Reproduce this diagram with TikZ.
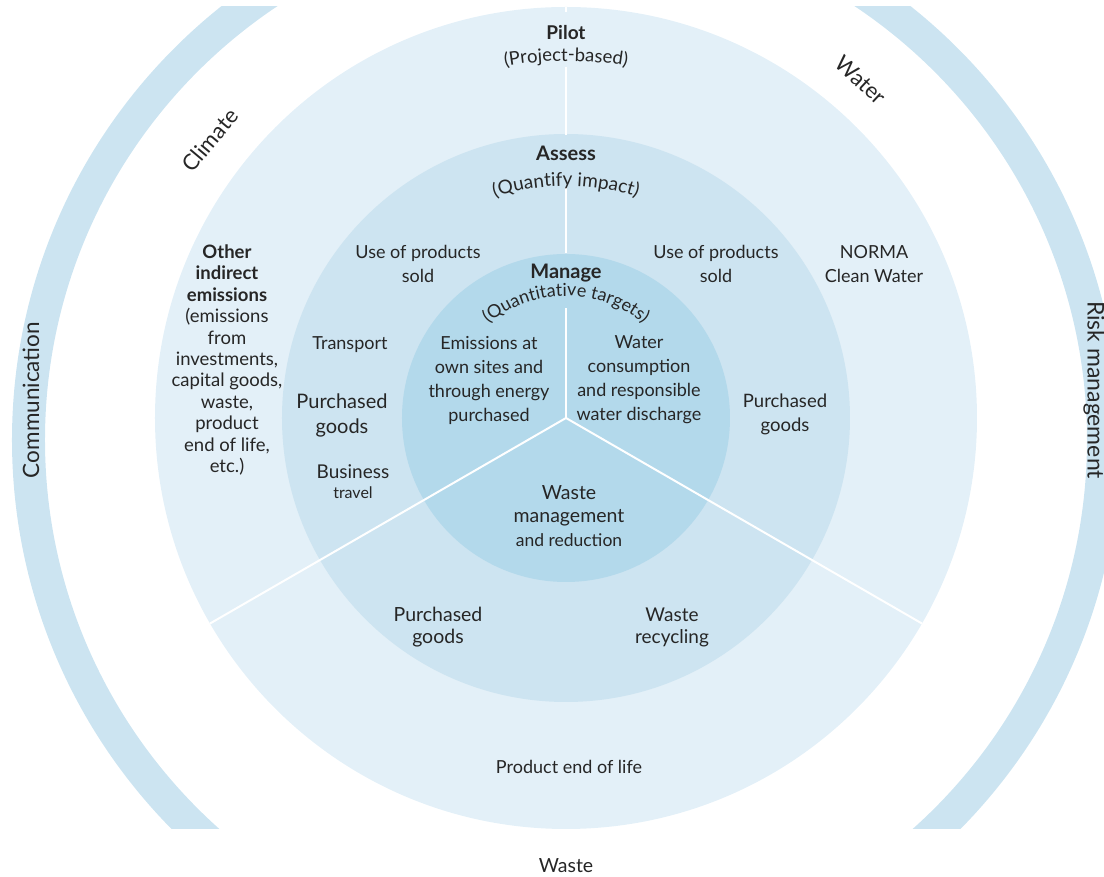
\documentclass[tikz,border=0pt]{standalone}
\usepackage{fontspec}
\setmainfont{Lato}
\usetikzlibrary{positioning,decorations.text}

\definecolor{ringpilot}{RGB}{227,240,248}
\definecolor{ringassess}{RGB}{205,228,241}
\definecolor{ringmanage}{RGB}{179,217,235}
\definecolor{bandblue}{RGB}{204,228,241}
\definecolor{inktext}{RGB}{38,38,38}

\begin{document}
\begin{tikzpicture}[
                x=1pt, y=1pt,
                node distance=4pt,
                every node/.append style={inner sep=0pt,text=inktext,align=center},
                lbl/.style={font=\fontsize{18}{24}\selectfont},
                lblbig/.style={font=\fontsize{20}{25}\selectfont},
                lblhead/.style={font=\fontsize{20}{22}\selectfont\bfseries},
                lblring/.style={font=\fontsize{22}{24}\selectfont},
                divider/.style={white,line width=2pt}
            ]
                \useasboundingbox (-566,-459) rectangle (538,418);
                % side bands
                \begin{scope}
                    \clip (-600,-411) rectangle (600,411);
                    \fill[bandblue,even odd rule] (0,-22) circle (554) (0,-22) circle (521);
                \end{scope}
                % rings
                \fill[ringpilot]  (0,0) circle (411);
                \fill[ringassess] (0,0) circle (284);
                \fill[ringmanage] (0,0) circle (164);
                % dividers
                \coordinate (O) at (0,0);
                \draw[divider] (O) -- (210:411);
                \draw[divider] (O) -- (330:411);
                \foreach \a/\b in {0/110,165/231,283/351,406/411}
                    \draw[divider] (90:\a) -- (90:\b);
                % ring titles
                \node (pilot)  [lblhead,font=\fontsize{19}{22}\selectfont\bfseries] at (0,385) {Pilot};
                \node (assess) [lblhead] at (0,265) {Assess};
                \node (manage) [lblhead] at (0,145) {Manage};
                \path[decorate,decoration={text along path,text align=center,
                    text={|\fontsize{18.5}{20}\selectfont\color{inktext}|(Project-based)}}]
                    (110:357) arc[start angle=110,end angle=70,radius=357];
                \path[decorate,decoration={text along path,text align=center,
                    text={|\fontsize{19}{20}\selectfont\color{inktext}|(Quantify impact)}}]
                    (125:232) arc[start angle=125,end angle=55,radius=232];
                \path[decorate,decoration={text along path,text align=center,
                    text={|\fontsize{18}{20}\selectfont\color{inktext}|(Quantitative targets)}}]
                    (150:122) arc[start angle=150,end angle=30,radius=122];
                % climate
                \node (otheremis) [font=\fontsize{18.5}{21.4}\selectfont] at (-339,58)
                    {\textbf{Other}\\\textbf{indirect}\\\textbf{emissions}\\(emissions\\from\\investments,\\capital goods,\\waste,\\product\\end of life,\\etc.)};
                \node (useleft)   [lbl]    at (-148,154) {Use of products\\sold};
                \node (transport) [lbl]    at (-216,73)  {Transport};
                \node (purleft)   [lblbig] at (-224,3)   {Purchased\\goods};
                \node (business)  [font=\fontsize{19}{20}\selectfont] at (-213,-54) {Business};
                \node (travel)    [font=\fontsize{16}{16}\selectfont,below=7pt of business] {travel};
                \node (ownsites)  [lbl]    at (-77,38)   {Emissions at\\own sites and\\through energy\\purchased};
                % water
                \node (useright)  [lbl]    at (150,154)  {Use of products\\sold};
                \node (norma)     [lbl]    at (308,154)  {NORMA\\Clean Water};
                \node (waterdis)  [lbl]    at (73,38)    {Water\\consumption\\and responsible\\water discharge};
                \node (purright)  [font=\fontsize{18.5}{24}\selectfont] at (219,4) {Purchased\\goods};
                % waste
                \node (wastemgmt) [font=\fontsize{19.5}{23.5}\selectfont] at (3,-98)
                    {Waste\\management\\{\fontsize{17.5}{18}\selectfont and reduction}};
                \node (purbottom) [font=\fontsize{19.5}{22}\selectfont] at (-128,-209) {Purchased\\goods};
                \node (recycling) [font=\fontsize{19}{22}\selectfont]   at (106,-209)  {Waste\\recycling};
                \node (endoflife) [lbl]    at (3,-349)   {Product end of life};
                % outer labels
                \node (climate) [lblring,rotate=50]  at (-356,278) {Climate};
                \node (water)   [lblring,rotate=-43] at (295,338)  {Water};
                \node (waste)   [font=\fontsize{19.5}{22}\selectfont] at (0,-448) {Waste};
                \node (comm)    [lblring,font=\fontsize{22.5}{24}\selectfont,rotate=90]  at (-535,18) {Communication};
                \node (risk)    [lblring,font=\fontsize{23}{24}\selectfont,rotate=-90] at (528,28) {Risk management};
            \end{tikzpicture}
\end{document}
